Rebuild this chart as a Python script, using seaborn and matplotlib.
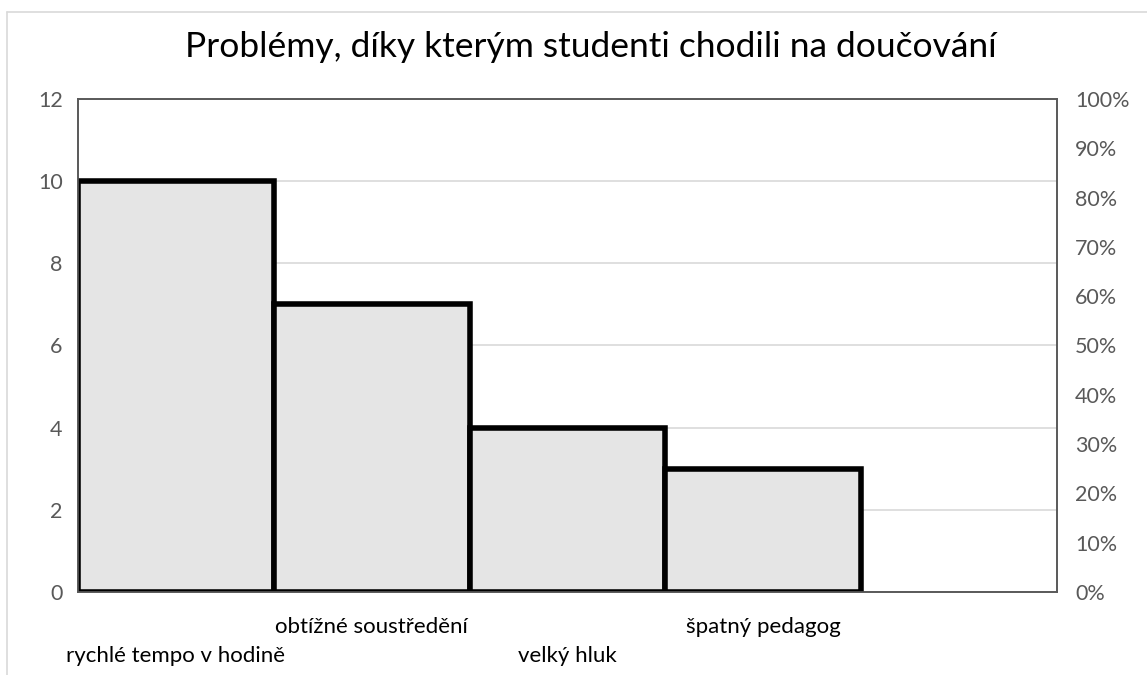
import pandas as pd
import seaborn as sns
import matplotlib.pyplot as plt
from matplotlib.lines import Line2D
from matplotlib.ticker import PercentFormatter

# Data
categories = ["rychlé tempo v hodině", "obtížné soustředění", "velký hluk", "špatný pedagog"]
counts = [10, 7, 4, 3]
left_ticks = [0, 2, 4, 6, 8, 10, 12]
right_ticks = [0, 0.1, 0.2, 0.3, 0.4, 0.5, 0.6, 0.7, 0.8, 0.9, 1.0]

df = pd.DataFrame({"problem": categories, "count": counts})

sns.set_theme(style="white")
plt.rcParams['font.family'] = ['Lato', 'DejaVu Sans']

fig = plt.figure(figsize=(11.47, 6.75), dpi=100)
ax = fig.add_axes([0.068, 0.123, 0.8535, 0.7304])

sns.barplot(data=df, x="problem", y="count", ax=ax, width=1.0,
            color="#e5e5e5", edgecolor="black", linewidth=4.0, saturation=1, zorder=3)
ax.set_xlim(-0.5, 4.5)
ax.set_ylim(0, 12)
ax.set_yticks(left_ticks)
ax.yaxis.grid(True, color="#d9d9d9", linewidth=1.2, zorder=0)
ax.set_axisbelow(True)
ax.set_xlabel("")
ax.set_ylabel("")

# staggered category labels
labels = [("\n" + c) if i % 2 == 0 else c for i, c in enumerate(categories)]
ax.set_xticks(range(len(categories)))
ax.set_xticklabels(labels, fontsize=16, color="black", linespacing=1.55)
ax.tick_params(axis="x", length=0, pad=18)
ax.tick_params(axis="y", length=0, pad=11, labelsize=15.5, labelcolor="#595959")

ax2 = ax.twinx()
ax2.set_ylim(0, 1)
ax2.set_yticks(right_ticks)
ax2.yaxis.set_major_formatter(PercentFormatter(1.0, decimals=0))
ax2.tick_params(axis="y", length=0, pad=13, labelsize=15.5, labelcolor="#595959")
ax2.grid(False)

for a in (ax, ax2):
    for s in a.spines.values():
        s.set_color("#595959")
        s.set_linewidth(1.2)

fig.text(0.515, 0.93, "Problémy, díky kterým studenti chodili na doučování",
         ha="center", va="center", fontsize=25.5, color="black")

# chart area border (top and left visible)
fig.add_artist(Line2D([0.006, 1.0], [0.982, 0.982], color="#d9d9d9", linewidth=1.2))
fig.add_artist(Line2D([0.006, 0.006], [0.0, 0.982], color="#d9d9d9", linewidth=1.2))

fig.savefig("out.png", dpi=100)
